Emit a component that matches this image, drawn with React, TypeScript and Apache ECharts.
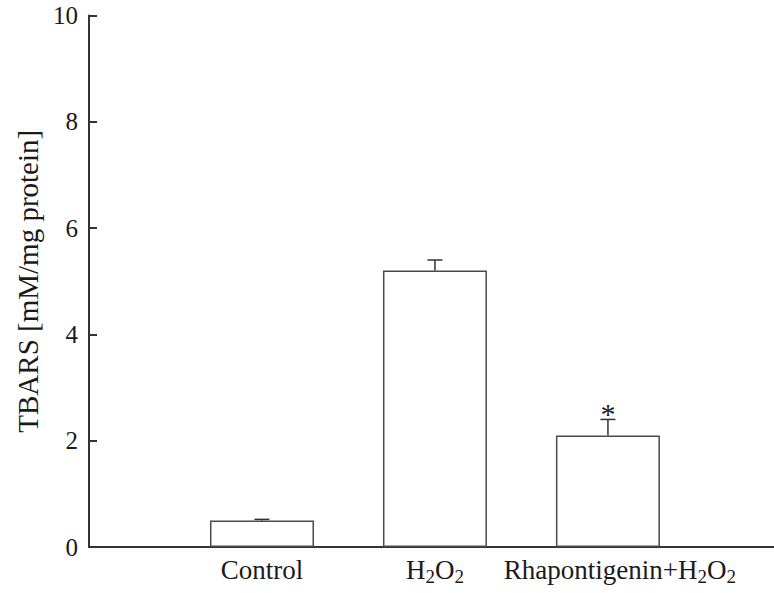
import React, { useEffect, useRef } from "react";
import * as echarts from "echarts";

const categories = ["Control", "H2O2", "Rhapontigenin+H2O2"];
const categoryRich = ["{n|Control}", "{n|H}{sub|2}{n|O}{sub|2}", "{nr|Rhapontigenin+H}{sub|2}{n|O}{sub|2}"];
const positions = [1, 2, 3];
const means = [0.5, 5.2, 2.1];
const errors = [0.02, 0.2, 0.3];
const significance = ["", "", "*"];
const yTicks = [0, 2, 4, 6, 8, 10];

const FONT = "'Liberation Serif', 'Times New Roman', serif";
const INK = "#1a1a1a";
const LINE = "#333";

export default function App() {
  const ref = useRef<HTMLDivElement>(null);
  useEffect(() => {
    if (!ref.current) return;
    const chart = echarts.init(ref.current, null, { renderer: "svg" });
    const option: any = {
      animation: false,
      backgroundColor: "#fff",
      grid: { left: 89, right: 0, top: 15.5, bottom: 46, containLabel: false },
      xAxis: {
        type: "value",
        min: 0,
        max: 3.96,
        interval: 1,
        splitLine: { show: false },
        axisTick: { show: false },
        axisLine: { show: true, lineStyle: { color: LINE, width: 2 } },
        axisLabel: {
          margin: 9,
          showMaxLabel: false,
          formatter: (v: number) => {
            const i = positions.indexOf(Math.round(v * 100) / 100);
            return i >= 0 ? categoryRich[i] : "";
          },
          color: INK,
          fontFamily: FONT,
          fontSize: 27,
          rich: {
            n: { fontSize: 27, fontFamily: FONT, color: INK, lineHeight: 30, verticalAlign: "top" },
            nr: { fontSize: 27, fontFamily: FONT, color: INK, lineHeight: 30, verticalAlign: "top", padding: [0, 0, 0, 24] },
            sub: { fontSize: 19, fontFamily: FONT, color: INK, lineHeight: 6, verticalAlign: "bottom" },
          },
        },
      },
      yAxis: {
        type: "value",
        min: yTicks[0],
        max: yTicks[yTicks.length - 1],
        interval: 2,
        splitLine: { show: false },
        axisLine: { show: true, lineStyle: { color: LINE, width: 2 } },
        axisTick: { show: true, inside: true, length: 8, lineStyle: { color: LINE, width: 2 } },
        axisLabel: { color: INK, fontFamily: FONT, fontSize: 25, margin: 11 },
        name: "TBARS [mM/mg protein]",
        nameLocation: "middle",
        nameRotate: 90,
        nameGap: 47,
        nameTextStyle: { color: INK, fontFamily: FONT, fontSize: 29 },
      },
      series: [
        {
          type: "bar",
          data: positions.map((p, i) => [p, means[i]]),
          barWidth: 104,
          itemStyle: { color: "#fff", borderColor: "#4a4a4a", borderWidth: 1.5 },
          silent: true,
        },
        {
          type: "custom",
          data: positions.map((p, i) => [p, means[i], errors[i]]),
          renderItem: (params: any, api: any) => {
            const x = api.value(0);
            const m = api.value(1);
            const e = api.value(2);
            const base = api.coord([x, m]);
            const top = api.coord([x, m + e]);
            const children: any[] = [
              { type: "line", shape: { x1: base[0], y1: base[1], x2: top[0], y2: top[1] }, style: { stroke: LINE, lineWidth: 1.5 } },
              { type: "line", shape: { x1: top[0] - 7.5, y1: top[1], x2: top[0] + 7.5, y2: top[1] }, style: { stroke: LINE, lineWidth: 1.5 } },
            ];
            const sig = significance[params.dataIndex];
            if (sig) {
              children.push({
                type: "text",
                x: top[0],
                y: top[1] + 9,
                style: { text: sig, fill: INK, font: `30px ${FONT}`, textAlign: "center", textVerticalAlign: "bottom" },
              });
            }
            return { type: "group", children };
          },
          z: 5,
        },
      ],
    };
    chart.setOption(option);
    return () => chart.dispose();
  }, []);
  return <div ref={ref} style={{ position: "fixed", left: 0, top: 0, width: 774, height: 593 }} />;
}
